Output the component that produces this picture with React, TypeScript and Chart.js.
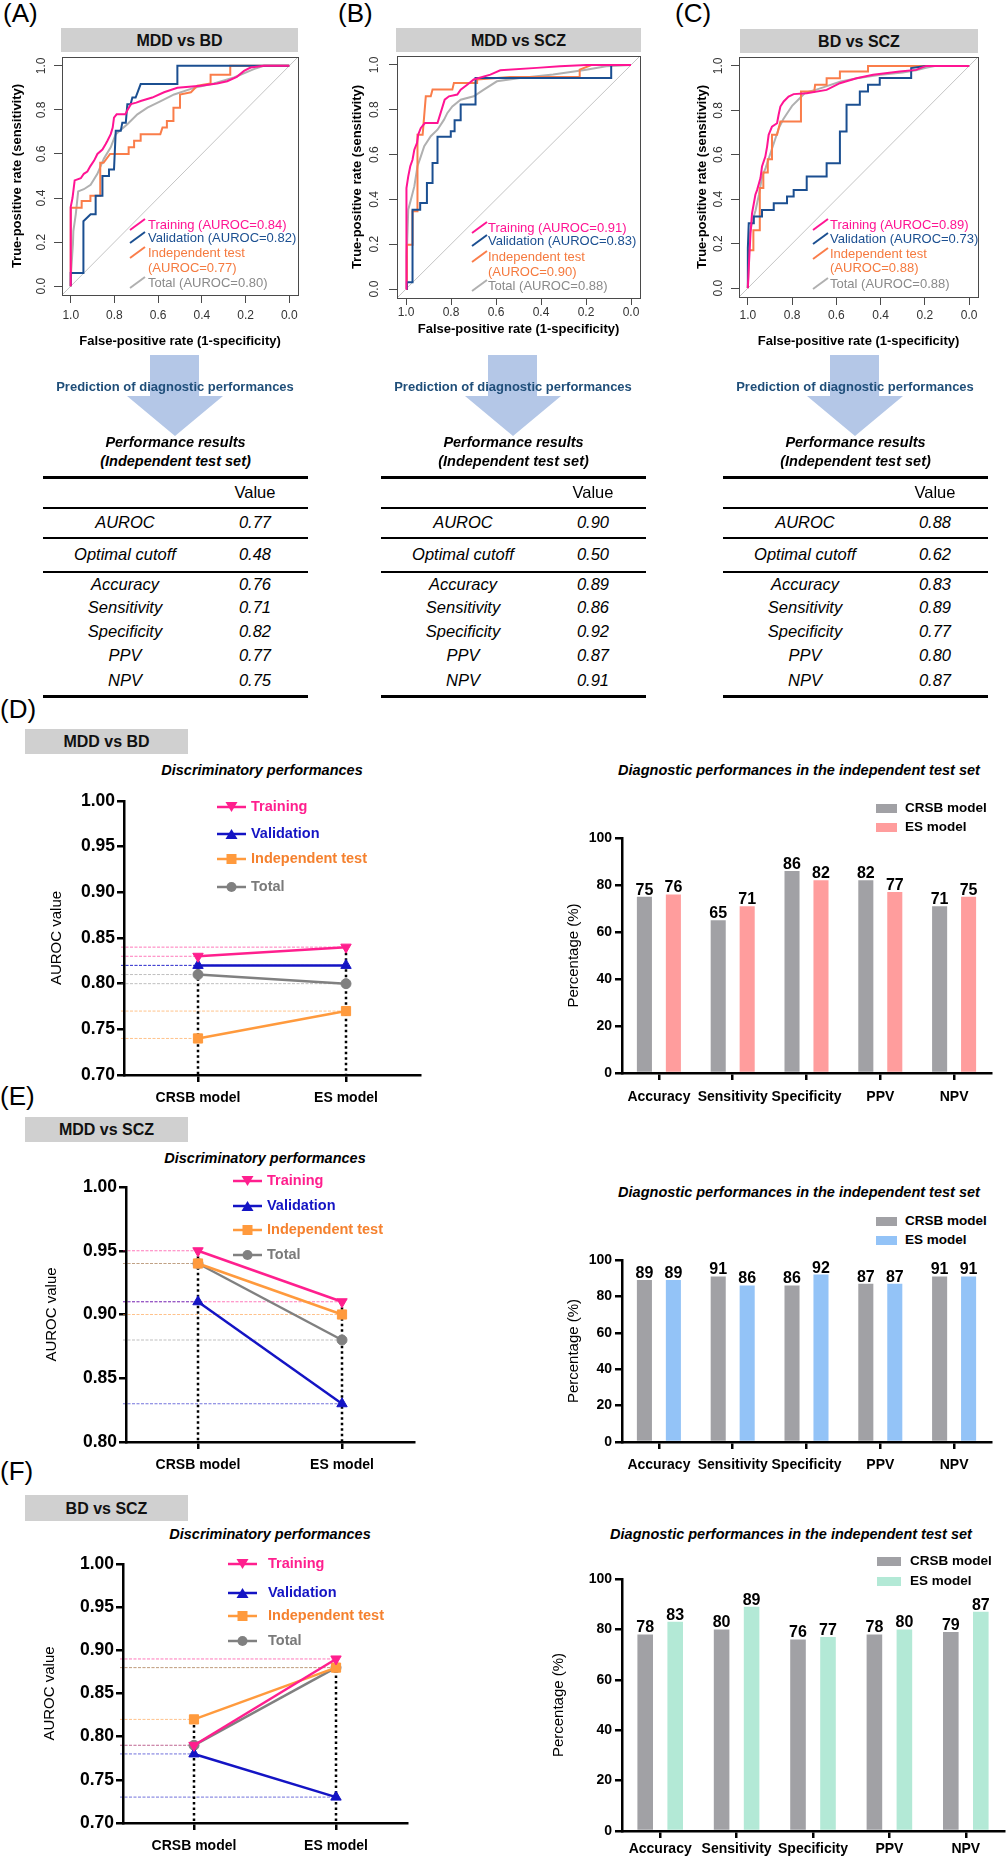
import React, { useEffect, useRef } from 'react';
import { Chart, registerables } from 'chart.js';

Chart.register(...registerables);

const FONT = '"Liberation Sans", Arial, Helvetica, sans-serif';
Chart.defaults.font.family = FONT;

// ---------------- ROC curves: [specificity, sensitivity] ----------------
const rocA_training = [[1,0],[1,0.36],[0.992,0.40],[0.982,0.48],[0.954,0.49],[0.94,0.51],[0.924,0.52],[0.91,0.545],[0.893,0.57],[0.878,0.60],[0.855,0.62],[0.84,0.645],[0.832,0.66],[0.817,0.69],[0.808,0.72],[0.802,0.765],[0.79,0.78],[0.75,0.78],[0.74,0.80],[0.725,0.826],[0.70,0.833],[0.68,0.84],[0.627,0.856],[0.573,0.88],[0.512,0.90],[0.405,0.91],[0.33,0.92],[0.284,0.93],[0.24,0.95],[0.207,0.977],[0.177,0.992],[0.116,1.0],[0,1]];
const rocA_validation = [[1,0],[1,0.06],[0.942,0.06],[0.942,0.295],[0.909,0.326],[0.886,0.326],[0.886,0.41],[0.855,0.41],[0.855,0.50],[0.825,0.50],[0.825,0.53],[0.802,0.53],[0.794,0.705],[0.771,0.705],[0.764,0.742],[0.748,0.742],[0.741,0.826],[0.726,0.826],[0.718,0.856],[0.703,0.856],[0.68,0.917],[0.512,0.917],[0.512,1.0],[0,1]];
const rocA_independent = [[1,0],[1,0.356],[0.95,0.356],[0.95,0.386],[0.91,0.386],[0.91,0.41],[0.865,0.41],[0.865,0.56],[0.85,0.56],[0.82,0.60],[0.735,0.60],[0.735,0.63],[0.71,0.63],[0.71,0.66],[0.68,0.66],[0.68,0.69],[0.59,0.69],[0.58,0.72],[0.56,0.72],[0.56,0.75],[0.53,0.75],[0.53,0.81],[0.5,0.81],[0.5,0.87],[0.45,0.88],[0.42,0.91],[0.36,0.92],[0.36,0.96],[0.27,0.96],[0.27,1.0],[0,1]];
const rocA_total = [[1,0],[0.998,0.07],[0.99,0.19],[0.988,0.25],[0.977,0.326],[0.966,0.43],[0.94,0.44],[0.909,0.46],[0.878,0.51],[0.848,0.58],[0.817,0.63],[0.794,0.69],[0.741,0.735],[0.695,0.78],[0.649,0.81],[0.588,0.84],[0.527,0.87],[0.436,0.90],[0.345,0.92],[0.253,0.947],[0.162,0.985],[0.116,1.0],[0,1]];

const rocB_training = [[1,0],[1,0.205],[0.996,0.451],[0.99,0.503],[0.981,0.548],[0.971,0.577],[0.963,0.622],[0.951,0.652],[0.946,0.689],[0.934,0.719],[0.916,0.741],[0.86,0.741],[0.846,0.786],[0.828,0.845],[0.809,0.86],[0.772,0.868],[0.757,0.89],[0.728,0.912],[0.699,0.935],[0.625,0.957],[0.581,0.976],[0.419,0.987],[0.316,0.994],[0.199,1.0],[0,1]];
const rocB_validation = [[1,0],[0.996,0.03],[0.971,0.03],[0.971,0.354],[0.937,0.354],[0.937,0.384],[0.907,0.384],[0.907,0.473],[0.882,0.473],[0.882,0.5625],[0.86,0.5625],[0.86,0.68],[0.801,0.68],[0.801,0.704],[0.784,0.704],[0.784,0.753],[0.757,0.753],[0.757,0.823],[0.691,0.823],[0.691,0.942],[0.088,0.942],[0.088,1.0],[0,1]];
const rocB_independent = [[1,0],[0.996,0.198],[0.971,0.198],[0.971,0.347],[0.949,0.347],[0.949,0.689],[0.926,0.689],[0.912,0.86],[0.89,0.86],[0.882,0.89],[0.794,0.89],[0.787,0.92],[0.684,0.92],[0.684,0.935],[0.537,0.946],[0.228,0.946],[0.228,0.979],[0.176,1.0],[0,1]];
const rocB_total = [[1,0],[0.997,0.146],[0.99,0.354],[0.978,0.4],[0.963,0.458],[0.949,0.548],[0.934,0.592],[0.919,0.637],[0.89,0.682],[0.86,0.711],[0.831,0.756],[0.816,0.786],[0.794,0.815],[0.757,0.845],[0.699,0.86],[0.654,0.89],[0.596,0.927],[0.493,0.942],[0.346,0.957],[0.199,0.979],[0.11,0.994],[0,1]];

const rocC_training = [[1,0],[0.996,0.09],[0.988,0.247],[0.981,0.337],[0.966,0.42],[0.958,0.442],[0.943,0.495],[0.936,0.547],[0.921,0.592],[0.913,0.637],[0.906,0.69],[0.891,0.727],[0.868,0.742],[0.861,0.78],[0.853,0.817],[0.838,0.84],[0.816,0.862],[0.793,0.873],[0.734,0.877],[0.644,0.892],[0.584,0.922],[0.509,0.944],[0.434,0.96],[0.314,0.975],[0.24,0.982],[0.195,1.0],[0,1]];
const rocC_validation = [[1,0],[1,0.18],[0.996,0.292],[0.973,0.292],[0.973,0.322],[0.936,0.322],[0.936,0.352],[0.883,0.352],[0.883,0.382],[0.823,0.382],[0.823,0.412],[0.793,0.412],[0.793,0.442],[0.734,0.442],[0.734,0.502],[0.644,0.502],[0.644,0.562],[0.584,0.562],[0.584,0.705],[0.554,0.705],[0.554,0.825],[0.494,0.825],[0.494,0.885],[0.457,0.885],[0.457,0.915],[0.404,0.915],[0.404,0.945],[0.262,0.945],[0.262,0.99],[0.195,1.0],[0,1]];
const rocC_independent = [[1,0],[0.996,0.17],[0.975,0.17],[0.975,0.26],[0.946,0.26],[0.946,0.45],[0.93,0.45],[0.93,0.52],[0.91,0.52],[0.91,0.58],[0.891,0.58],[0.891,0.69],[0.868,0.69],[0.853,0.75],[0.76,0.75],[0.76,0.885],[0.70,0.885],[0.696,0.915],[0.644,0.915],[0.644,0.944],[0.584,0.944],[0.584,0.975],[0.457,0.975],[0.457,1.0],[0,1]];
const rocC_total = [[1,0],[0.997,0.12],[0.99,0.25],[0.98,0.3],[0.965,0.35],[0.95,0.42],[0.936,0.5],[0.92,0.54],[0.9,0.6],[0.88,0.66],[0.86,0.72],[0.84,0.76],[0.82,0.79],[0.8,0.82],[0.77,0.85],[0.74,0.88],[0.7,0.89],[0.64,0.91],[0.58,0.93],[0.5,0.945],[0.4,0.96],[0.3,0.97],[0.24,0.98],[0.2,0.99],[0.15,1.0],[0,1]];

const rocTicks = [0, 0.2, 0.4, 0.6, 0.8, 1.0];
const rocLegendA = ['Training (AUROC=0.84)', 'Validation (AUROC=0.82)', 'Independent test', '(AUROC=0.77)', 'Total (AUROC=0.80)'];
const rocLegendB = ['Training (AUROC=0.91)', 'Validation (AUROC=0.83)', 'Independent test', '(AUROC=0.90)', 'Total (AUROC=0.88)'];
const rocLegendC = ['Training (AUROC=0.89)', 'Validation (AUROC=0.73)', 'Independent test', '(AUROC=0.88)', 'Total (AUROC=0.88)'];

// ---------------- tables ----------------
const tableMetrics = ['AUROC', 'Optimal cutoff', 'Accuracy', 'Sensitivity', 'Specificity', 'PPV', 'NPV'];
const tableA = ['0.77', '0.48', '0.76', '0.71', '0.82', '0.77', '0.75'];
const tableB = ['0.90', '0.50', '0.89', '0.86', '0.92', '0.87', '0.91'];
const tableC = ['0.88', '0.62', '0.83', '0.89', '0.77', '0.80', '0.87'];

// ---------------- line charts ----------------
const modelLabels = ['CRSB model', 'ES model'];
const seriesNames = ['Training', 'Validation', 'Independent test', 'Total'];
const dTraining = [0.83, 0.84], dValidation = [0.82, 0.82], dIndependent = [0.74, 0.77], dTotal = [0.81, 0.80];
const eTraining = [0.95, 0.91], eValidation = [0.91, 0.83], eIndependent = [0.94, 0.90], eTotal = [0.94, 0.88];
const fTraining = [0.79, 0.89], fValidation = [0.78, 0.73], fIndependent = [0.82, 0.88], fTotal = [0.79, 0.88];
const dTicks = [0.70, 0.75, 0.80, 0.85, 0.90, 0.95, 1.00];
const eTicks = [0.80, 0.85, 0.90, 0.95, 1.00];
const fTicks = [0.70, 0.75, 0.80, 0.85, 0.90, 0.95, 1.00];

// ---------------- bar charts ----------------
const metricLabels = ['Accuracy', 'Sensitivity', 'Specificity', 'PPV', 'NPV'];
const dCrsb = [75, 65, 86, 82, 71], dEs = [76, 71, 82, 77, 75];
const eCrsb = [89, 91, 86, 87, 91], eEs = [89, 86, 92, 87, 91];
const fCrsb = [78, 80, 76, 78, 79], fEs = [83, 89, 77, 80, 87];
const barTicks = [0, 20, 40, 60, 80, 100];

// ---------------- styles ----------------
const rocColors = ['#ff1493', '#1b4f91', '#fa7d4a', '#b0b0b0'];
const rocTextColors = ['#ff1493', '#1b4f91', '#f57a3f', '#8a8a8a'];
const lineColors = ['#ff1f8e', '#1414c4', '#ff9a3d', '#808080'];
const lineTextColors = ['#ff1f8e', '#1414c4', '#f5812e', '#7a7a7a'];
const lineRefColors = ['rgba(255,31,142,0.6)', 'rgba(20,20,196,0.6)', 'rgba(255,154,61,0.6)', 'rgba(128,128,128,0.5)'];
const pointStyles = ['triangle', 'triangle', 'rect', 'circle'];
const pointRots = [180, 0, 0, 0];
const pointRadii = [6, 6, 6.5, 5];
const crsbColor = '#a1a1a5';

function useChart(ref: any, makeConfig: () => any) {
  useEffect(() => {
    const chart = new Chart(ref.current, makeConfig());
    return () => chart.destroy();
  }, []);
}

function Canvas({ x, y, w, h, make }: any) {
  const ref = useRef<HTMLCanvasElement>(null);
  useChart(ref, make);
  return <canvas ref={ref} width={w} height={h} style={{ position: 'absolute', left: x, top: y, width: w, height: h }} />;
}

function Txt({ x, y, children, size, bold, italic, color = '#000', align = 'center' }: any) {
  const style: any = {
    position: 'absolute', top: y - size * 0.59, fontFamily: FONT, fontSize: size,
    lineHeight: `${size * 1.2}px`, fontWeight: bold ? 'bold' : 'normal', fontStyle: italic ? 'italic' : 'normal',
    color, whiteSpace: 'nowrap',
  };
  if (align === 'center') { style.left = x - 400; style.width = 800; style.textAlign = 'center'; }
  else style.left = x;
  return <div style={style}>{children}</div>;
}

function Header({ l, r, t, b, text }: any) {
  return (
    <div style={{ position: 'absolute', left: l, top: t, width: r - l, height: b - t, background: '#d0d0d0' }}>
      <div style={{ position: 'absolute', left: 0, right: 0, top: (b - t) / 2 - 16 * 0.59, textAlign: 'center', font: `bold 16px ${FONT}`, lineHeight: '19.2px', color: '#111' }}>{text}</div>
    </div>
  );
}

// ---------------- ROC chart ----------------
function rocFrame(labelOffset: number) {
  return {
    id: 'rocFrame',
    afterDraw(chart: any) {
      const { ctx, chartArea: a } = chart;
      const y = chart.scales.y;
      ctx.save();
      ctx.strokeStyle = '#4a4a4a';
      ctx.lineWidth = 1;
      ctx.strokeRect(Math.round(a.left) + 0.5, Math.round(a.top) + 0.5, Math.round(a.right - a.left), Math.round(a.bottom - a.top));
      ctx.fillStyle = '#333';
      ctx.font = `12px ${FONT}`;
      ctx.textAlign = 'center';
      ctx.textBaseline = 'middle';
      rocTicks.forEach((v) => {
        const py = y.getPixelForValue(v);
        ctx.save();
        ctx.translate(a.left - labelOffset, py);
        ctx.rotate(-Math.PI / 2);
        ctx.fillText(v.toFixed(1), 0, 0);
        ctx.restore();
      });
      ctx.restore();
    },
  };
}

function rocConfig(o: any) {
  const yW = o.box.l - o.cx;
  const xH = o.cy + o.ch - o.box.b;
  const datasets: any[] = o.series.map((s: number[][], i: number) => ({
    label: seriesNames[i],
    data: s.map((p) => ({ x: p[0], y: p[1] })),
    borderColor: rocColors[i], borderWidth: 2, pointRadius: 0, fill: false, tension: 0,
  }));
  datasets.push({ label: 'chance', data: [{ x: 1.04, y: -0.04 }, { x: -0.04, y: 1.04 }], borderColor: '#c4c4c4', borderWidth: 1, pointRadius: 0, fill: false });
  const setTicks = (s: any) => { s.ticks = rocTicks.map((v) => ({ value: v })); };
  return {
    type: 'line',
    data: { datasets },
    plugins: [rocFrame(o.labelOffset)],
    options: {
      responsive: false, animation: false,
      layout: { padding: { left: 0, bottom: 0, top: o.box.t - o.cy, right: o.cx + o.cw - o.box.r } },
      plugins: { legend: { display: false }, tooltip: { enabled: false } },
      scales: {
        x: {
          type: 'linear', reverse: true, min: -0.04, max: 1.04,
          afterBuildTicks: setTicks,
          afterFit: (s: any) => { s.height = xH; s.paddingLeft = 0; s.paddingRight = 0; },
          ticks: { callback: (v: any) => Number(v).toFixed(1), font: { size: 12 }, color: '#333', padding: o.xTickPad, maxRotation: 0, autoSkip: false },
          grid: { display: true, drawOnChartArea: false, drawTicks: true, tickLength: o.tickLen, color: '#4a4a4a', lineWidth: 1 },
          border: { display: false },
          title: { display: true, text: 'False-positive rate (1-specificity)', font: { size: 13, weight: 'bold' }, color: '#000', padding: { top: 0, bottom: o.xTitlePad } },
        },
        y: {
          type: 'linear', min: -0.04, max: 1.04,
          afterBuildTicks: setTicks,
          afterFit: (s: any) => { s.width = yW; s.paddingTop = 0; s.paddingBottom = 0; },
          ticks: { display: false },
          grid: { display: true, drawOnChartArea: false, drawTicks: true, tickLength: 8, color: '#4a4a4a', lineWidth: 1 },
          border: { display: false },
          title: { display: true, text: 'True-positive rate (sensitivity)', font: { size: 13, weight: 'bold' }, color: '#000', padding: { top: o.yTitlePad, bottom: 0 } },
        },
      },
    },
  };
}

function RocLegend({ textX, lineX, rows, labels }: any) {
  return (
    <>
      {labels.map((t: string, i: number) => {
        const ci = i <= 2 ? i : i === 3 ? 2 : 3;
        return (
          <React.Fragment key={i}>
            {i !== 3 && (
              <svg style={{ position: 'absolute', left: lineX, top: rows[i] - 7, overflow: 'visible' }} width={16} height={14}>
                <line x1={0} y1={12} x2={15} y2={1} stroke={rocColors[ci]} strokeWidth={2} />
              </svg>
            )}
            <Txt x={textX} y={rows[i]} size={13} color={rocTextColors[ci]} align="left">{t}</Txt>
          </React.Fragment>
        );
      })}
    </>
  );
}

// ---------------- line chart ----------------
const linePlugin = {
  id: 'lineRefs',
  beforeDatasetsDraw(chart: any) {
    const { ctx, chartArea: a } = chart;
    const x = chart.scales.x, y = chart.scales.y;
    ctx.save();
    chart.data.datasets.forEach((ds: any, i: number) => {
      ds.data.forEach((v: number, j: number) => {
        const px = x.getPixelForValue(j);
        const py = y.getPixelForValue(v);
        ctx.strokeStyle = lineRefColors[i];
        ctx.lineWidth = 1;
        ctx.setLineDash([3, 1.5]);
        ctx.beginPath();
        ctx.moveTo(a.left - 3, py);
        ctx.lineTo(px, py);
        ctx.stroke();
      });
    });
    modelLabels.forEach((_, j) => {
      const top = Math.max(...chart.data.datasets.map((d: any) => d.data[j]));
      const px = x.getPixelForValue(j);
      ctx.strokeStyle = '#000';
      ctx.lineWidth = 2.5;
      ctx.setLineDash([2.5, 3]);
      ctx.beginPath();
      ctx.moveTo(px, y.getPixelForValue(top));
      ctx.lineTo(px, a.bottom);
      ctx.stroke();
    });
    ctx.restore();
  },
};

function lineConfig(o: any) {
  const yW = o.area.l - o.cx;
  const xH = o.cy + o.ch - o.area.b;
  const datasets = o.series.map((s: number[], i: number) => ({
    label: seriesNames[i], data: s,
    borderColor: lineColors[i], backgroundColor: lineColors[i], borderWidth: 2.5,
    pointStyle: pointStyles[i], pointRotation: pointRots[i], pointRadius: pointRadii[i],
    pointBackgroundColor: lineColors[i], pointBorderColor: lineColors[i], pointBorderWidth: 1, tension: 0, fill: false,
  }));
  return {
    type: 'line',
    data: { labels: modelLabels, datasets },
    plugins: [linePlugin],
    options: {
      responsive: false, animation: false,
      layout: { padding: { left: 0, bottom: 0, top: o.area.t - o.cy, right: o.cx + o.cw - o.area.r } },
      plugins: { legend: { display: false }, tooltip: { enabled: false } },
      scales: {
        x: {
          type: 'category', offset: true,
          afterFit: (s: any) => { s.height = xH; s.paddingLeft = 0; s.paddingRight = 0; },
          ticks: { font: { size: 14, weight: 'bold' }, color: '#000', padding: o.xTickPad, maxRotation: 0 },
          grid: { display: true, offset: false, drawOnChartArea: false, drawTicks: true, tickLength: 7, color: '#000', lineWidth: 2.5 },
          border: { display: true, color: '#000', width: 2.5, z: 1 },
        },
        y: {
          type: 'linear', min: o.ticks[0], max: o.ticks[o.ticks.length - 1],
          afterBuildTicks: (s: any) => { s.ticks = o.ticks.map((v: number) => ({ value: v })); },
          afterFit: (s: any) => { s.width = yW; s.paddingTop = 0; s.paddingBottom = 0; },
          ticks: { callback: (v: any) => Number(v).toFixed(2), font: { size: 17.5, weight: 'bold' }, color: '#000', padding: 2 },
          grid: { display: true, drawOnChartArea: false, drawTicks: true, tickLength: 7, color: '#000', lineWidth: 2.5 },
          border: { display: true, color: '#000', width: 2.5, z: 1 },
          title: { display: true, text: 'AUROC value', font: { size: 15 }, color: '#000', padding: { top: o.yTitlePad, bottom: 0 } },
        },
      },
    },
  };
}

function Marker({ i, cx, cy }: any) {
  const c = lineColors[i];
  if (i === 0) return <polygon points={`${cx - 6},${cy - 5} ${cx + 6},${cy - 5} ${cx},${cy + 5}`} fill={c} />;
  if (i === 1) return <polygon points={`${cx - 6},${cy + 5} ${cx + 6},${cy + 5} ${cx},${cy - 5}`} fill={c} />;
  if (i === 2) return <rect x={cx - 5} y={cy - 5} width={10} height={10} fill={c} />;
  return <circle cx={cx} cy={cy} r={5} fill={c} />;
}

function LineLegend({ symX, textX, rows }: any) {
  return (
    <>
      {seriesNames.map((n, i) => (
        <React.Fragment key={n}>
          <svg style={{ position: 'absolute', left: symX, top: rows[i] - 7 }} width={30} height={14}>
            <line x1={0} y1={7} x2={29} y2={7} stroke={lineColors[i]} strokeWidth={2.5} />
            <Marker i={i} cx={14.5} cy={7} />
          </svg>
          <Txt x={textX} y={rows[i]} size={14.5} bold color={lineTextColors[i]} align="left">{n}</Txt>
        </React.Fragment>
      ))}
    </>
  );
}

// ---------------- bar chart ----------------
const barLabelPlugin = {
  id: 'barLabels',
  afterDatasetsDraw(chart: any) {
    const ctx = chart.ctx;
    ctx.save();
    ctx.font = `bold 16px ${FONT}`;
    ctx.fillStyle = '#000';
    ctx.textAlign = 'center';
    ctx.textBaseline = 'alphabetic';
    chart.data.datasets.forEach((ds: any, i: number) => {
      chart.getDatasetMeta(i).data.forEach((bar: any, j: number) => {
        ctx.fillText(String(ds.data[j]), bar.x, bar.y - 2);
      });
    });
    ctx.restore();
  },
};

function barConfig(o: any) {
  const yW = o.area.l - o.cx;
  const xH = o.cy + o.ch - o.area.b;
  return {
    type: 'bar',
    data: {
      labels: metricLabels,
      datasets: [
        { label: 'CRSB model', data: o.crsb, backgroundColor: crsbColor, categoryPercentage: 0.785, barPercentage: 0.52, borderWidth: 0 },
        { label: 'ES model', data: o.es, backgroundColor: o.esColor, categoryPercentage: 0.785, barPercentage: 0.52, borderWidth: 0 },
      ],
    },
    plugins: [barLabelPlugin],
    options: {
      responsive: false, animation: false,
      layout: { padding: { left: 0, bottom: 0, top: o.area.t - o.cy, right: o.cx + o.cw - o.area.r } },
      plugins: { legend: { display: false }, tooltip: { enabled: false } },
      scales: {
        x: {
          type: 'category',
          afterFit: (s: any) => { s.height = xH; s.paddingLeft = 0; s.paddingRight = 0; },
          ticks: { font: { size: 14, weight: 'bold' }, color: '#000', padding: o.xTickPad, maxRotation: 0, autoSkip: false },
          grid: { display: true, offset: false, drawOnChartArea: false, drawTicks: true, tickLength: 7, color: '#000', lineWidth: 2.5 },
          border: { display: true, color: '#000', width: 2.5, z: 1 },
        },
        y: {
          type: 'linear', min: 0, max: 100,
          afterBuildTicks: (s: any) => { s.ticks = barTicks.map((v) => ({ value: v })); },
          afterFit: (s: any) => { s.width = yW; s.paddingTop = 0; s.paddingBottom = 0; },
          ticks: { font: { size: 14, weight: 'bold' }, color: '#000', padding: 3 },
          grid: { display: true, drawOnChartArea: false, drawTicks: true, tickLength: 7, color: '#000', lineWidth: 2.5 },
          border: { display: true, color: '#000', width: 2.5, z: 1 },
          title: { display: true, text: 'Percentage (%)', font: { size: 15 }, color: '#000', padding: { top: o.yTitlePad, bottom: 0 } },
        },
      },
    },
  };
}

function BarLegend({ swX, swW, textX, rows, esColor }: any) {
  const cols = [crsbColor, esColor];
  const names = ['CRSB model', 'ES model'];
  return (
    <>
      {names.map((n, i) => (
        <React.Fragment key={n}>
          <div style={{ position: 'absolute', left: swX, top: rows[i] - 4.5, width: swW, height: 9, background: cols[i] }} />
          <Txt x={textX} y={rows[i]} size={13.5} bold align="left">{n}</Txt>
        </React.Fragment>
      ))}
    </>
  );
}

// ---------------- arrows & tables ----------------
function Arrow({ cx }: any) {
  const pts = [[cx - 25, 355], [cx + 24, 355], [cx + 24, 396], [cx + 48, 396], [cx, 436], [cx - 48, 396], [cx - 25, 396]]
    .map((p) => p.join(',')).join(' ');
  return (
    <>
      <svg style={{ position: 'absolute', left: 0, top: 0 }} width={1006} height={440}>
        <polygon points={pts} fill="#b4c7e7" />
      </svg>
      <Txt x={cx} y={387} size={13} bold color="#1f4e79">Prediction of diagnostic performances</Txt>
    </>
  );
}

function PerfTable({ left, values }: any) {
  const w = 265;
  const cx = left + w / 2;
  const lines = [[477, 3], [508, 2], [538, 2], [572, 2], [696, 3]];
  const rowY = [523, 555, 585, 608, 632, 656, 681];
  return (
    <>
      <Txt x={cx} y={443} size={14.5} bold italic>Performance results</Txt>
      <Txt x={cx} y={462} size={14.5} bold italic>(Independent test set)</Txt>
      {lines.map(([y, t], i) => (
        <div key={i} style={{ position: 'absolute', left, top: y - t / 2, width: w, height: t, background: '#000' }} />
      ))}
      <Txt x={left + 212} y={493} size={16.5}>Value</Txt>
      {tableMetrics.map((m, i) => (
        <React.Fragment key={m}>
          <Txt x={left + 82} y={rowY[i]} size={16.5} italic>{m}</Txt>
          <Txt x={left + 212} y={rowY[i]} size={16.5} italic>{values[i]}</Txt>
        </React.Fragment>
      ))}
    </>
  );
}

export default function App() {
  return (
    <div style={{ position: 'absolute', left: 0, top: 0, width: 1006, height: 1858, background: '#fff', overflow: 'hidden', fontFamily: FONT }}>
      {/* panel letters */}
      <Txt x={3} y={13} size={26} align="left">(A)</Txt>
      <Txt x={338} y={13} size={26} align="left">(B)</Txt>
      <Txt x={675} y={13} size={26} align="left">(C)</Txt>
      <Txt x={0} y={709} size={26} align="left">(D)</Txt>
      <Txt x={0} y={1096} size={26} align="left">(E)</Txt>
      <Txt x={0} y={1471} size={26} align="left">(F)</Txt>

      {/* ROC headers */}
      <Header l={61} r={298} t={28} b={52} text="MDD vs BD" />
      <Header l={396} r={641} t={28} b={52} text="MDD vs SCZ" />
      <Header l={740} r={978} t={29} b={53} text="BD vs SCZ" />

      {/* ROC charts */}
      <Canvas x={0} y={50} w={312} h={302} make={() => rocConfig({ cx: 0, cy: 50, cw: 312, ch: 302, box: { l: 62, t: 57, r: 298, b: 295 }, series: [rocA_training, rocA_validation, rocA_independent, rocA_total], labelOffset: 20, yTitlePad: 9.2, xTickPad: 5.8, xTitlePad: 3.2, tickLen: 8 })} />
      <Canvas x={330} y={50} w={325} h={290} make={() => rocConfig({ cx: 330, cy: 50, cw: 325, ch: 290, box: { l: 397, t: 56, r: 640, b: 298 }, series: [rocB_training, rocB_validation, rocB_independent, rocB_total], labelOffset: 22, yTitlePad: 19.2, xTickPad: 0.8, xTitlePad: 3.2, tickLen: 7 })} />
      <Canvas x={680} y={50} w={310} h={302} make={() => rocConfig({ cx: 680, cy: 50, cw: 310, ch: 302, box: { l: 739, t: 57, r: 978, b: 297 }, series: [rocC_training, rocC_validation, rocC_independent, rocC_total], labelOffset: 20, yTitlePad: 14.2, xTickPad: 3.8, xTitlePad: 3.2, tickLen: 8 })} />

      <RocLegend textX={148} lineX={130} rows={[225, 238, 253, 268, 283]} labels={rocLegendA} />
      <RocLegend textX={488} lineX={472} rows={[228, 241, 257, 272, 286]} labels={rocLegendB} />
      <RocLegend textX={830} lineX={813} rows={[225, 239, 254, 268, 284]} labels={rocLegendC} />

      {/* arrows */}
      <Arrow cx={175} />
      <Arrow cx={513} />
      <Arrow cx={855} />

      {/* tables */}
      <PerfTable left={43} values={tableA} />
      <PerfTable left={381} values={tableB} />
      <PerfTable left={723} values={tableC} />

      {/* D */}
      <Header l={25} r={188} t={729} b={754} text="MDD vs BD" />
      <Txt x={262} y={771} size={14.5} bold italic>Discriminatory performances</Txt>
      <Txt x={799} y={771} size={14.5} bold italic>Diagnostic performances in the independent test set</Txt>
      <Canvas x={0} y={790} w={430} h={325} make={() => lineConfig({ cx: 0, cy: 790, cw: 430, ch: 325, area: { l: 124, t: 801, r: 420, b: 1075 }, series: [dTraining, dValidation, dIndependent, dTotal], ticks: dTicks, yTitlePad: 48, xTickPad: 7.6 })} />
      <LineLegend symX={217} textX={251} rows={[807, 834, 859, 887]} />
      <Canvas x={540} y={828} w={460} h={287} make={() => barConfig({ cx: 540, cy: 828, cw: 460, ch: 287, area: { l: 622, t: 838, r: 991, b: 1073 }, crsb: dCrsb, es: dEs, esColor: '#ff9d9d', yTitlePad: 25, xTickPad: 8.6 })} />
      <BarLegend swX={876} swW={21} textX={905} rows={[808, 827]} esColor="#ff9d9d" />

      {/* E */}
      <Header l={25} r={188} t={1117} b={1142} text="MDD vs SCZ" />
      <Txt x={265} y={1159} size={14.5} bold italic>Discriminatory performances</Txt>
      <Txt x={799} y={1193} size={14.5} bold italic>Diagnostic performances in the independent test set</Txt>
      <Canvas x={0} y={1176} w={430} h={306} make={() => lineConfig({ cx: 0, cy: 1176, cw: 430, ch: 306, area: { l: 126, t: 1187, r: 414, b: 1442 }, series: [eTraining, eValidation, eIndependent, eTotal], ticks: eTicks, yTitlePad: 43, xTickPad: 7.6 })} />
      <LineLegend symX={233} textX={267} rows={[1181, 1206, 1230, 1255]} />
      <Canvas x={540} y={1250} w={460} h={232} make={() => barConfig({ cx: 540, cy: 1250, cw: 460, ch: 232, area: { l: 622, t: 1260, r: 991, b: 1442 }, crsb: eCrsb, es: eEs, esColor: '#93c3f7', yTitlePad: 25, xTickPad: 7.6 })} />
      <BarLegend swX={876} swW={21} textX={905} rows={[1221, 1240]} esColor="#93c3f7" />

      {/* F */}
      <Header l={25} r={188} t={1495} b={1521} text="BD vs SCZ" />
      <Txt x={270} y={1535} size={14.5} bold italic>Discriminatory performances</Txt>
      <Txt x={791} y={1535} size={14.5} bold italic>Diagnostic performances in the independent test set</Txt>
      <Canvas x={0} y={1553} w={430} h={305} make={() => lineConfig({ cx: 0, cy: 1553, cw: 430, ch: 305, area: { l: 123, t: 1564, r: 407, b: 1823 }, series: [fTraining, fValidation, fIndependent, fTotal], ticks: fTicks, yTitlePad: 41, xTickPad: 7.6 })} />
      <LineLegend symX={228} textX={268} rows={[1564, 1593, 1616, 1641]} />
      <Canvas x={530} y={1569} w={476} h={289} make={() => barConfig({ cx: 530, cy: 1569, cw: 476, ch: 289, area: { l: 622, t: 1579, r: 1004, b: 1831 }, crsb: fCrsb, es: fEs, esColor: '#b3e9d6', yTitlePad: 20, xTickPad: 2.6 })} />
      <BarLegend swX={877} swW={24} textX={910} rows={[1561, 1581]} esColor="#b3e9d6" />
    </div>
  );
}
